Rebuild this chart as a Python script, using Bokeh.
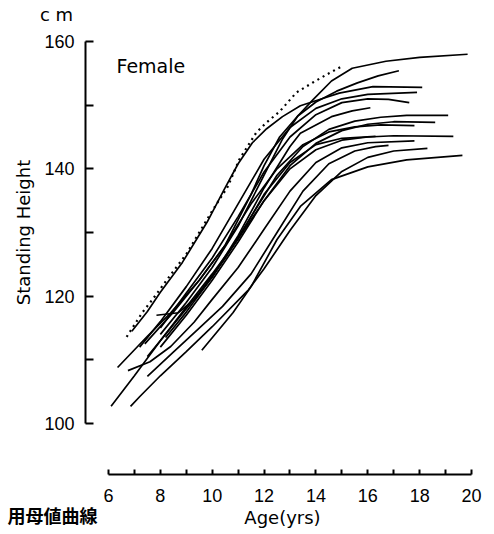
from bokeh.plotting import figure
from bokeh.models import Range1d, FixedTicker, Label
from bokeh.embed import file_html
from bokeh.resources import INLINE

# ---- data: individual growth curves (age in years, standing height in cm) ----
g01_age = [8.0, 9.0, 10.0, 11.0, 12.0, 12.7, 13.3, 13.9, 14.6, 15.4, 16.7, 18.0, 19.85]
g01_cm = [114.0, 119.0, 124.5, 131.0, 139.0, 144.6, 148.3, 150.9, 153.8, 155.8, 156.9, 157.5, 158.0]

g02_age = [7.4, 8.5, 9.5, 10.5, 11.5, 12.0, 12.6, 13.3, 14.0, 14.8, 15.6, 16.4, 17.2]
g02_cm = [112.5, 117.5, 122.5, 128.0, 136.0, 140.5, 145.0, 148.3, 150.5, 152.2, 153.5, 154.6, 155.4]

g03_age = [6.9, 7.5, 8.0, 8.85, 9.8, 10.47, 11.0, 11.55, 12.1, 12.71, 13.4, 14.14, 14.9, 16.2, 18.1]
g03_cm = [114.5, 117.6, 120.6, 125.3, 131.6, 136.8, 140.8, 144.1, 146.3, 148.2, 149.9, 150.9, 151.9, 152.9, 152.8]

g04_age = [7.2, 8.0, 9.0, 10.0, 11.0, 12.0, 13.0, 14.0, 15.0, 16.0, 17.9]
g04_cm = [112.0, 116.0, 121.5, 127.5, 134.5, 141.5, 146.5, 149.5, 151.0, 151.7, 152.0]

g05_age = [8.0, 9.0, 10.0, 11.0, 12.0, 13.0, 14.0, 15.0, 16.0, 16.8, 17.6]
g05_cm = [115.0, 120.5, 126.0, 132.5, 139.5, 145.0, 148.5, 150.4, 151.0, 150.9, 150.4]

g06_age = [8.2, 9.0, 10.0, 11.0, 12.0, 13.0, 13.4, 14.6, 15.4, 16.1]
g06_cm = [113.5, 117.5, 123.0, 129.5, 137.0, 143.5, 145.6, 148.2, 149.1, 149.6]

g07_age = [7.5, 8.5, 9.5, 10.5, 11.5, 12.5, 13.5, 14.5, 15.5, 16.5, 17.5, 19.1]
g07_cm = [110.5, 115.5, 120.5, 126.0, 132.5, 139.0, 143.5, 146.2, 147.5, 148.1, 148.4, 148.4]

g08_age = [8.0, 9.0, 10.0, 11.0, 12.0, 13.0, 14.0, 15.0, 16.0, 17.0, 18.6]
g08_cm = [112.0, 117.0, 122.5, 128.5, 135.0, 140.5, 144.0, 146.0, 147.0, 147.4, 147.3]

g09_age = [6.35, 7.5, 8.4, 9.5, 10.5, 11.5, 12.5, 13.5, 14.5, 15.5, 16.5, 17.8]
g09_cm = [108.8, 113.7, 117.4, 122.5, 128.0, 134.5, 140.0, 143.8, 145.8, 146.6, 146.9, 146.8]

g10_age = [6.1, 7.0, 8.0, 9.0, 10.0, 11.0, 12.0, 13.0, 14.0, 15.0, 16.0, 17.0, 19.3]
g10_cm = [102.7, 107.5, 113.0, 118.3, 123.5, 129.0, 135.0, 140.0, 143.0, 144.5, 145.0, 145.2, 145.1]

g11_age = [7.85, 8.7, 9.3, 10.0, 11.0, 12.0, 13.0, 14.0, 15.0, 16.3]
g11_cm = [117.0, 117.4, 119.5, 123.0, 129.0, 136.0, 141.0, 143.8, 144.8, 145.1]

g12_age = [6.75, 7.6, 8.4, 9.3, 10.0, 11.0, 12.0, 13.0, 14.0, 15.0, 16.0, 17.8]
g12_cm = [108.3, 109.7, 112.1, 115.9, 119.5, 124.5, 130.5, 136.5, 141.0, 143.3, 144.1, 144.4]

g13_age = [6.85, 7.2, 8.0, 9.0, 10.0, 11.4, 12.0, 13.0, 14.0, 15.0, 16.0, 17.0, 18.3]
g13_cm = [102.7, 104.2, 107.5, 111.3, 115.2, 121.0, 124.3, 130.3, 135.8, 139.6, 141.8, 142.8, 143.2]

g14_age = [7.5, 8.5, 9.5, 10.4, 11.5, 12.5, 13.5, 14.5, 15.5, 16.3, 16.8]
g14_cm = [107.4, 111.2, 115.0, 118.4, 123.5, 130.0, 136.5, 140.8, 142.8, 143.5, 143.7]

g15_age = [9.6, 10.8, 11.5, 12.5, 13.4, 14.6, 16.0, 17.5, 19.65]
g15_cm = [111.5, 117.4, 121.5, 128.9, 134.1, 138.3, 140.3, 141.4, 142.1]

# dotted reference curve
ref_age = [6.7, 7.3, 7.7, 8.35, 9.0, 9.5, 10.0, 10.6, 11.05, 11.7, 12.1, 12.6, 13.25, 13.9, 14.5, 15.0]
ref_cm = [113.6, 117.4, 119.5, 123.1, 126.6, 130.0, 133.4, 137.2, 141.5, 145.7, 147.3, 149.0, 152.0, 153.6, 155.0, 156.1]

x_major = [6, 8, 10, 12, 14, 16, 18, 20]
x_minor = [7, 9, 11, 13, 15, 17, 19]
y_major = [100, 120, 140, 160]
y_minor = [110, 130, 150]

solid_curves = [
    (g01_age, g01_cm), (g02_age, g02_cm), (g03_age, g03_cm), (g04_age, g04_cm),
    (g05_age, g05_cm), (g06_age, g06_cm), (g07_age, g07_cm), (g08_age, g08_cm),
    (g09_age, g09_cm), (g10_age, g10_cm), (g11_age, g11_cm), (g12_age, g12_cm),
    (g13_age, g13_cm), (g14_age, g14_cm), (g15_age, g15_cm),
]

p = figure(width=490, height=530, output_backend="svg", toolbar_location=None,
           x_range=Range1d(1.835, 20.733), y_range=Range1d(83.195, 166.44),
           min_border_left=0, min_border_right=0, min_border_top=0, min_border_bottom=0)
p.outline_line_color = None
p.grid.visible = False
p.background_fill_color = "white"
p.border_fill_color = "white"

for ages, cms in solid_curves:
    p.line(ages, cms, line_color="black", line_width=1.7)
p.line(ref_age, ref_cm, line_color="black", line_width=2.2, line_dash="2 4")

xa = p.xaxis[0]
xa.fixed_location = 91.99
xa.bounds = (6, 20)
xa.ticker = FixedTicker(ticks=x_major, minor_ticks=x_minor)
xa.axis_line_width = 2
xa.major_tick_line_width = 2
xa.minor_tick_line_width = 2
xa.major_tick_in = 5
xa.major_tick_out = 0
xa.minor_tick_in = 5
xa.minor_tick_out = 0
xa.major_label_standoff = 14
xa.major_label_text_font = "Liberation Sans"
xa.major_label_text_font_size = "18px"
xa.major_label_text_color = "black"

ya = p.yaxis[0]
ya.fixed_location = 5.113
ya.bounds = (100, 160)
ya.ticker = FixedTicker(ticks=y_major, minor_ticks=y_minor)
ya.axis_line_width = 2
ya.major_tick_line_width = 2
ya.minor_tick_line_width = 2
ya.major_tick_in = 8
ya.major_tick_out = 0
ya.minor_tick_in = 8
ya.minor_tick_out = 0
ya.major_label_standoff = 11
ya.major_label_text_font = "Liberation Sans"
ya.major_label_text_font_size = "18px"
ya.major_label_text_color = "black"
ya.axis_label = "Standing Height"
ya.axis_label_text_font = "DejaVu Sans"
ya.axis_label_text_font_size = "18px"
ya.axis_label_text_font_style = "normal"
ya.axis_label_text_color = "black"
ya.axis_label_standoff = 7

p.add_layout(Label(x=6.31, y=156.1, text="Female", text_font="DejaVu Sans",
                   text_font_size="19px", text_align="left", text_baseline="middle",
                   text_color="black"))
p.add_layout(Label(x=3.995, y=164.2, text="c m", text_font="DejaVu Sans",
                   text_font_size="18px", text_align="center", text_baseline="middle",
                   text_color="black"))
p.add_layout(Label(x=12.71, y=85.25, text="Age(yrs)", text_font="DejaVu Sans",
                   text_font_size="18px", text_align="center", text_baseline="middle",
                   text_color="black"))
p.add_layout(Label(x=2.105, y=85.7, text="用母値曲線", text_font="Noto Sans CJK JP",
                   text_font_size="18px", text_font_style="bold", text_align="left",
                   text_baseline="middle", text_color="black"))

open("out.html", "w").write(file_html(p, INLINE))
